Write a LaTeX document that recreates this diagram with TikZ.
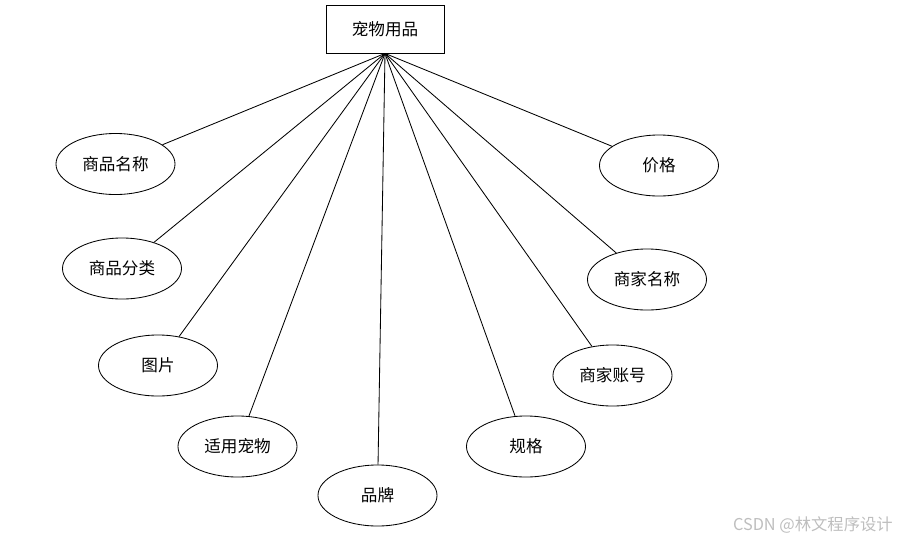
\documentclass[tikz,border=0pt]{standalone}
\usepackage{fontspec}
\newfontfamily\cjk{Noto Sans CJK SC}
\usetikzlibrary{shapes.geometric}
\definecolor{markgray}{RGB}{190,190,190}
\tikzset{
  entity/.style={draw, line width=0.6pt, minimum width=2.95cm, minimum height=1.2cm, inner sep=0pt, font=\cjk\fontsize{11.8}{13}\selectfont},
  attr/.style={draw, ellipse, line width=0.6pt, minimum width=2.975cm, minimum height=1.525cm, inner sep=0pt, font=\cjk\fontsize{11.8}{13}\selectfont},
  link/.style={line width=0.6pt}
}
\begin{document}
\begin{tikzpicture}[x=0.025cm, y=-0.025cm]
  \useasboundingbox (0,0) rectangle (897,541);

  % Entity
  \node[entity] (pet) at (385, 29) {宠物用品};

  % Attributes, left side
  \node[attr] (gname) at (115.5, 164) {商品名称};
  \node[attr] (gcat)  at (122, 268.5) {商品分类};
  \node[attr] (pic)   at (158, 365.5) {图片};
  \node[attr] (fit)   at (237.5, 446.5) {适用宠物};
  \node[attr] (brand) at (377.5, 495.5) {品牌};

  % Attributes, right side
  \node[attr] (spec)  at (526, 446.5) {规格};
  \node[attr] (acct)  at (612.5, 375.5) {商家账号};
  \node[attr] (shop)  at (647, 279.5) {商家名称};
  \node[attr] (price) at (659, 165.5) {价格};

  % Connectors
  \foreach \a in {gname, gcat, pic, fit, brand, spec, acct, shop, price}
    \draw[link] (pet.south) -- (\a);

  % Watermark
  \node[text=markgray, anchor=east, inner sep=0pt, font=\cjk\fontsize{11.6}{13}\selectfont] (mark) at (893, 525) {CSDN @林文程序设计};
\end{tikzpicture}
\end{document}
